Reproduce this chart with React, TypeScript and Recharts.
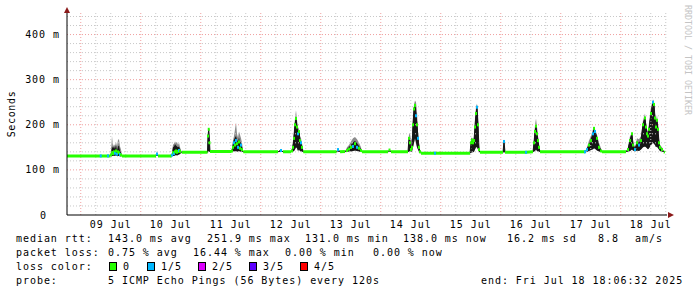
import React from 'react';
import { ComposedChart, Area, Line, XAxis, YAxis, ReferenceLine } from 'recharts';

// x values are hours counted from the left edge of the graph (Jul 8, evening)
const firstMidnight = 5.5;
const dayLabels = ['09 Jul', '10 Jul', '11 Jul', '12 Jul', '13 Jul', '14 Jul', '15 Jul', '16 Jul', '17 Jul', '18 Jul'];
const yTicks = [0, 100, 200, 300, 400];

// [hour, median rtt in ms]
const medianRtt: [number, number][] = [
  [0, 131], [13.5, 131], [16.4, 131], [17.2, 131],
  [17.6, 133], [18.0, 138], [18.4, 136], [18.8, 140], [19.2, 137], [19.6, 142], [20.0, 135], [20.4, 140], [20.8, 138], [21.2, 134], [21.6, 133], [22.0, 131],
  [35.6, 131], [36.0, 135], [36.4, 131],
  [41.9, 131], [42.0, 133], [42.4, 138], [42.8, 136], [43.2, 140], [43.6, 142], [44.0, 139], [44.4, 141], [44.8, 143], [45.2, 141], [45.9, 139],
  [56.2, 139], [56.4, 175], [56.7, 190], [57.0, 160], [57.2, 141],
  [65.8, 141], [66.0, 142], [66.4, 150], [66.8, 160], [67.2, 155], [67.6, 165], [68.0, 158], [68.4, 150], [68.8, 162], [69.2, 148], [69.6, 155], [70.0, 145], [70.5, 140],
  [84.4, 140], [85.6, 143], [86.4, 140],
  [89.6, 140], [90.0, 142], [90.4, 150], [90.8, 170], [91.2, 200], [91.6, 214], [92.0, 195], [92.4, 180], [92.8, 185], [93.2, 165], [93.6, 160], [94.0, 150], [94.5, 140],
  [107.8, 140], [108.4, 145], [109.2, 140],
  [111.2, 141], [112.0, 143], [112.8, 146], [113.6, 150], [114.4, 152], [115.2, 158], [116.0, 150], [116.8, 148], [117.6, 143], [118.0, 140],
  [128.4, 140], [129.0, 144], [129.6, 140],
  [136.4, 140], [136.8, 170], [137.2, 160], [137.6, 145], [138.0, 150], [138.4, 200], [138.8, 235], [139.2, 243], [139.6, 220], [140.0, 200], [140.4, 170], [140.8, 150], [141.2, 140], [141.6, 137],
  [147.2, 137], [161.2, 137],
  [161.6, 160], [162.0, 166], [162.4, 160], [162.8, 165], [163.2, 195], [163.6, 225], [164.0, 239], [164.4, 200], [164.8, 145], [165.2, 139],
  [174.4, 139], [174.8, 163], [175.2, 139],
  [183.6, 139],
  [186.4, 140], [186.8, 160], [187.2, 185], [187.6, 197], [188.0, 180], [188.4, 165], [188.8, 150], [189.2, 140],
  [207.2, 140], [208.0, 145], [208.8, 155], [209.6, 165], [210.4, 180], [210.8, 192], [211.2, 185], [212.0, 170], [212.8, 150], [213.6, 142], [214.0, 140],
  [223.6, 140], [224.4, 145], [225.2, 165], [226.0, 180], [226.4, 155], [227.2, 145], [228.0, 160], [228.8, 155], [229.6, 165], [230.4, 200], [231.2, 215], [231.6, 195], [232.0, 180], [232.4, 175], [232.8, 190], [233.6, 225], [234.4, 250], [234.8, 245], [235.2, 215], [235.6, 195], [236.0, 210], [236.4, 190], [236.8, 160], [237.2, 150], [238.0, 145], [238.8, 140], [239.2, 139],
];

// [hour, min ping, top of dense smoke, max ping] in ms
const smoke: [number, number, number, number][] = [
  [17.2, 131, 131, 131], [17.6, 130, 136, 142], [18.0, 131, 152, 175], [18.4, 131, 148, 152], [18.8, 132, 152, 157], [19.2, 131, 147, 153], [19.6, 133, 155, 162], [20.0, 130, 143, 152], [20.4, 131, 152, 167], [20.8, 131, 154, 168], [21.2, 130, 142, 152], [21.6, 130, 138, 145], [22.0, 131, 131, 131],
  [35.6, 131, 131, 131], [36.0, 131, 139, 141], [36.4, 131, 131, 131],
  [41.9, 131, 131, 131], [42.0, 130, 137, 141], [42.4, 131, 150, 156], [42.8, 131, 152, 158], [43.2, 132, 157, 163], [43.6, 133, 154, 160], [44.0, 132, 152, 162], [44.4, 133, 150, 155], [44.8, 134, 152, 160], [45.2, 135, 146, 150], [45.9, 139, 139, 139],
  [56.2, 139, 139, 139], [56.4, 140, 182, 185], [56.7, 141, 191, 193], [57.0, 140, 166, 170], [57.2, 141, 141, 141],
  [65.8, 141, 141, 141], [66.0, 140, 146, 150], [66.4, 141, 160, 165], [66.8, 142, 167, 175], [67.2, 141, 172, 190], [67.6, 142, 175, 205], [68.0, 141, 167, 180], [68.4, 141, 162, 172], [68.8, 142, 172, 185], [69.2, 141, 160, 178], [69.6, 141, 162, 170], [70.0, 140, 152, 160], [70.5, 140, 140, 140],
  [84.4, 140, 140, 140], [85.6, 140, 145, 146], [86.4, 140, 140, 140],
  [89.6, 140, 140, 140], [90.0, 140, 145, 148], [90.4, 141, 158, 165], [90.8, 142, 180, 190], [91.2, 145, 205, 215], [91.6, 150, 218, 232], [92.0, 148, 200, 210], [92.4, 142, 185, 195], [92.8, 145, 186, 190], [93.2, 142, 168, 175], [93.6, 141, 163, 170], [94.0, 140, 153, 160], [94.5, 140, 140, 140],
  [107.8, 140, 140, 140], [108.4, 140, 146, 148], [109.2, 140, 140, 140],
  [111.2, 140, 140, 140], [112.0, 140, 146, 150], [112.8, 141, 151, 155], [113.6, 141, 156, 163], [114.4, 142, 161, 170], [115.2, 143, 164, 173], [116.0, 142, 159, 168], [116.8, 141, 153, 160], [117.6, 140, 146, 150], [118.0, 140, 140, 140],
  [128.4, 140, 140, 140], [129.0, 140, 144, 145], [129.6, 140, 140, 140],
  [136.4, 140, 140, 140], [136.8, 140, 172, 180], [137.2, 141, 172, 181], [137.6, 140, 150, 165], [138.0, 141, 155, 170], [138.4, 150, 205, 215], [138.8, 160, 240, 245], [139.2, 170, 246, 254], [139.6, 160, 230, 250], [140.0, 150, 210, 230], [140.4, 145, 175, 185], [140.8, 140, 155, 160], [141.2, 138, 142, 145], [141.6, 137, 137, 137],
  [161.2, 137, 137, 137], [161.6, 138, 164, 170], [162.0, 139, 168, 172], [162.4, 139, 164, 168], [162.8, 140, 168, 172], [163.2, 145, 200, 215], [163.6, 150, 230, 240], [164.0, 150, 242, 247], [164.4, 145, 210, 220], [164.8, 140, 150, 155], [165.2, 139, 139, 139],
  [174.4, 139, 139, 139], [174.8, 139, 163, 165], [175.2, 139, 139, 139],
  [186.4, 140, 140, 140], [186.8, 141, 163, 168], [187.2, 142, 190, 200], [187.6, 145, 200, 214], [188.0, 142, 185, 195], [188.4, 141, 168, 175], [188.8, 140, 152, 155], [189.2, 140, 140, 140],
  [207.2, 140, 140, 140], [208.0, 140, 147, 150], [208.8, 142, 158, 165], [209.6, 144, 168, 175], [210.4, 146, 183, 190], [210.8, 148, 193, 196], [211.2, 147, 187, 190], [212.0, 143, 172, 178], [212.8, 141, 153, 160], [213.6, 140, 145, 148], [214.0, 140, 140, 140],
  [223.6, 140, 140, 140], [224.4, 140, 148, 150], [225.2, 142, 168, 175], [226.0, 145, 181, 182], [226.4, 143, 160, 165], [227.2, 141, 147, 150], [228.0, 143, 163, 170], [228.8, 142, 160, 168], [229.6, 145, 168, 175], [230.4, 150, 203, 210], [231.2, 152, 218, 225], [231.6, 150, 200, 205], [232.0, 148, 185, 190], [232.4, 146, 180, 185], [232.8, 148, 195, 205], [233.6, 155, 230, 240], [234.4, 160, 252, 256], [234.8, 158, 248, 252], [235.2, 155, 218, 225], [235.6, 150, 200, 210], [236.0, 152, 213, 222], [236.4, 148, 193, 200], [236.8, 145, 163, 170], [237.2, 142, 152, 155], [238.0, 140, 147, 150], [238.8, 140, 140, 140],
];

// hours where 1 of 5 pings was lost
const lossHours = [13.5, 16.4, 19.2, 20.0, 21.2, 36.0, 42.0, 42.8, 44.8, 66.8, 67.6, 68.4, 69.6, 85.6, 92.4, 93.6, 108.4, 114.4, 116.0, 139.6, 140.4, 147.2, 164.0, 174.8, 183.6, 207.2, 208.0, 210.4, 211.2, 227.2, 228.8, 234.4];

const lossLabels = ['0', '1/5', '2/5', '3/5', '4/5'];
const lossColors = ['#26ff00', '#00b8ff', '#dd00ff', '#5e00ff', '#ff0000'];

const rttLine = ['median rtt:', '143.0 ms avg', '251.9 ms max', '131.0 ms min', '138.0 ms now', '16.2 ms sd', '8.8', 'am/s'];
const lossLine = ['packet loss:', '0.75 % avg', '16.44 % max', '0.00 % min', '0.00 % now'];
const probeLine = ['probe:', '5 ICMP Echo Pings (56 Bytes) every 120s', 'end: Fri Jul 18 18:06:32 2025'];

const rttX = [16, 108, 207, 305, 403, 507, 598, 635];
const lossX = [16, 108, 193, 285, 373];
const legendBoxX = [109, 147, 198, 249, 300];
const probeX = [16, 108, 481];

const W = 697;
const H = 297;
const LEFT = 67;
const TOP = 12;
const RIGHT = 667;
const BOTTOM = 215;

const font = { fontFamily: '"DejaVu Sans Mono", monospace', fontSize: 10, letterSpacing: 0.95 };

// points inside a smoke burst get drawn as dots only, the rest as the flat median line
const burstHours = new Set(smoke.filter(([, lo, dense]) => dense > lo).map(([h]) => h));
const medRows = medianRtt.map(([h, ms]) => ({
  h,
  ms,
  flat: burstHours.has(h) ? null : ms,
  lost: lossHours.includes(h),
}));
const smokeRows = smoke.map(([h, lo, dense, hi]) => ({ h, band: [lo, hi], core: [lo, dense] }));

const noonTicks = dayLabels.map((_, i) => firstMidnight + 12 + 24 * i);
const majorX = dayLabels.map((_, i) => firstMidnight + 24 * i);
const minorX: number[] = [];
for (let t = firstMidnight; t < 240; t += 6) if (!majorX.includes(t)) minorX.push(t);
const minorY: number[] = [];
for (let v = 20; v < 450; v += 20) if (v % 100 !== 0) minorY.push(v);

const XTick = (p: any) => (
  <text x={p.x} y={BOTTOM + 13} textAnchor="middle" fill="#000" style={font}>
    {dayLabels[noonTicks.indexOf(p.payload.value)]}
  </text>
);

const YTick = (p: any) => {
  const v = p.payload.value;
  return (
    <text x={v === 0 ? LEFT - 20 : LEFT - 7} y={p.y + 3.5} textAnchor="end" fill="#000" style={font}>
      {v === 0 ? '0' : `${v} m`}
    </text>
  );
};

const renderDot = (p: any) => {
  if (p.cx == null || p.cy == null) return <g key={p.index} />;
  const inBurst = burstHours.has(p.payload.h);
  if (!inBurst && !p.payload.lost) return <g key={p.index} />;
  const c = p.payload.lost ? lossColors[1] : lossColors[0];
  return <rect key={p.index} x={p.cx - 1} y={p.cy - 1.5} width={2} height={3} fill={c} />;
};

export default function App() {
  return (
    <div style={{ position: 'absolute', left: 0, top: 0, width: W, height: H, background: '#fff' }}>
      <ComposedChart width={W} height={H} margin={{ top: TOP, right: W - RIGHT, left: 7, bottom: H - BOTTOM - 20 }}>
        <XAxis
          dataKey="h"
          type="number"
          domain={[0, 240]}
          ticks={noonTicks}
          interval={0}
          tick={XTick}
          tickLine={false}
          axisLine={{ stroke: '#000' }}
          height={20}
          allowDataOverflow
        />
        <YAxis
          type="number"
          domain={[0, 450]}
          ticks={yTicks}
          interval={0}
          tick={YTick}
          tickLine={false}
          axisLine={{ stroke: '#000' }}
          width={60}
          allowDataOverflow
        />
        {minorX.map((t) => (
          <ReferenceLine key={'mx' + t} x={t} stroke="#c8c8c8" strokeDasharray="1 2" />
        ))}
        {minorY.map((v) => (
          <ReferenceLine key={'my' + v} y={v} stroke="#c8c8c8" strokeDasharray="1 2" />
        ))}
        {majorX.map((t) => (
          <ReferenceLine key={'Mx' + t} x={t} stroke="#f0a0a0" strokeDasharray="1 2" />
        ))}
        {yTicks.slice(1).map((v) => (
          <ReferenceLine key={'My' + v} y={v} stroke="#f0a0a0" strokeDasharray="1 2" />
        ))}
        <Area data={smokeRows} dataKey="band" type="linear" stroke="none" fill="#8c8c8c" fillOpacity={1} isAnimationActive={false} dot={false} activeDot={false} />
        <Area data={smokeRows} dataKey="core" type="linear" stroke="none" fill="#161616" fillOpacity={1} isAnimationActive={false} dot={false} activeDot={false} />
        <Line data={medRows} dataKey="ms" type="linear" stroke="#161616" strokeWidth={1} dot={false} activeDot={false} isAnimationActive={false} />
        <Line data={medRows} dataKey="flat" type="linear" stroke={lossColors[0]} strokeWidth={3} connectNulls={false} dot={false} activeDot={false} isAnimationActive={false} />
        <Line data={medRows} dataKey="ms" type="linear" stroke="none" dot={renderDot} activeDot={false} isAnimationActive={false} />
      </ComposedChart>
      <svg width={W} height={H} style={{ position: 'absolute', left: 0, top: 0, pointerEvents: 'none' }}>
        <polygon points={`${LEFT - 3},${TOP + 1} ${LEFT + 3},${TOP + 1} ${LEFT},${TOP - 5}`} fill="#8b1a1a" />
        <polygon points={`${RIGHT + 1},${BOTTOM - 3} ${RIGHT + 1},${BOTTOM + 3} ${RIGHT + 7},${BOTTOM}`} fill="#8b1a1a" />
        <text x={15} y={114} textAnchor="middle" transform="rotate(-90 15 114)" fill="#000" style={{ ...font, letterSpacing: 0.65 }}>
          Seconds
        </text>
        <text x={685} y={5} transform="rotate(90 685 5)" fill="#c4c4c4" style={{ fontFamily: '"DejaVu Sans Mono", monospace', fontSize: 8.3 }}>
          RRDTOOL / TOBI OETIKER
        </text>
        {rttLine.map((s, i) => (
          <text key={'r' + i} x={rttX[i]} y={242} fill="#000" style={font}>{s}</text>
        ))}
        {lossLine.map((s, i) => (
          <text key={'l' + i} x={lossX[i]} y={256} fill="#000" style={font}>{s}</text>
        ))}
        <text x={16} y={270} fill="#000" style={font}>loss color:</text>
        {lossLabels.map((s, i) => (
          <g key={'c' + i}>
            <rect x={legendBoxX[i] + 0.5} y={262.5} width={7} height={8} fill={lossColors[i]} stroke="#000" strokeWidth={1} />
            <text x={legendBoxX[i] + 14} y={270} fill="#000" style={font}>{s}</text>
          </g>
        ))}
        {probeLine.map((s, i) => (
          <text key={'p' + i} x={probeX[i]} y={284} fill="#000" style={font}>{s}</text>
        ))}
      </svg>
    </div>
  );
}
